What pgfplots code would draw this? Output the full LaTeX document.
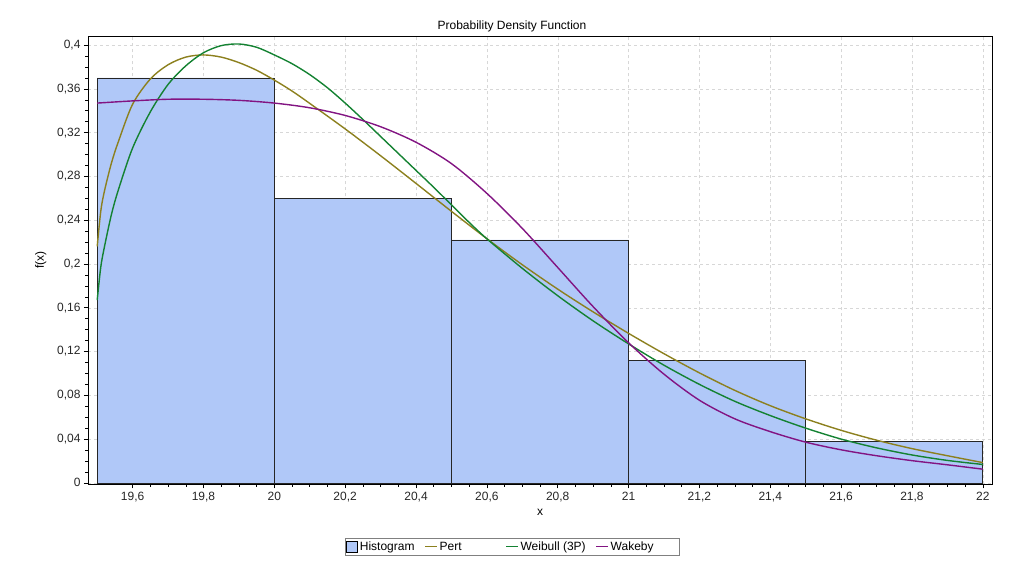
\documentclass[border=0pt]{standalone}
\usepackage{pgfplots}
\pgfplotsset{compat=1.18}
\usepackage{fontspec}
\setmainfont{Liberation Sans}

\definecolor{histfill}{RGB}{176,200,248}
\definecolor{pertcol}{RGB}{140,128,30}
\definecolor{weibcol}{RGB}{20,130,50}
\definecolor{wakecol}{RGB}{130,20,130}
\definecolor{gridcol}{RGB}{215,215,215}

\pgfplotsset{
    linelegend/.style={legend image code/.code={\draw[##1, line width=1pt] (0pt,0pt) -- (12pt,0pt);}},
    boxlegend/.style={legend image code/.code={\draw[fill=histfill, draw=black, line width=0.6pt] (0pt,-5pt) rectangle (11pt,6pt);}},
}

\begin{document}
\begin{tikzpicture}
\begin{axis}[
    name=ax,
    scale only axis,
    width=904pt, height=448.5pt,
    xmin=19.474, xmax=22.026,
    ymin=-0.0015, ymax=0.4083,
    xtick={19.6,19.8,...,22.01},
    ytick={0,0.04,...,0.41},
    minor x tick num=3,
    minor y tick num=3,
    tick align=outside,
    tick pos=left,
    major tick length=4pt,
    minor tick length=2.5pt,
    tick style={black, line width=0.5pt},
    scaled ticks=false,
    /pgf/number format/.cd, fixed, precision=2, use comma, assume math mode=true,
    /pgfplots/.cd,
    ticklabel style={font=\fontsize{12}{14}\selectfont, text=black!85},
    grid=major,
    major grid style={gridcol, dashed},
    axis line style={black, line width=0.9pt},
    title={Probability Density Function},
    title style={at={(0.469,1)}, anchor=base, yshift=0pt, font=\fontsize{12}{14}\selectfont},
    xlabel={x},
    ylabel={f(x)},
    ylabel style={yshift=4pt},
    label style={font=\fontsize{12}{14}\selectfont},
    legend columns=4,
    legend style={
        at={(0.469,-0.1194)}, anchor=north,
        draw=black!50, line width=0.6pt,
        font=\fontsize{12}{14}\selectfont,
        inner sep=1.5pt,
        /tikz/every even column/.append style={column sep=8pt},
    },
    legend cell align=left,
]

% histogram
\addplot[ybar interval, fill=histfill, draw=black!85, line width=0.6pt, boxlegend]
    coordinates {(19.5,0.370) (20.0,0.260) (20.5,0.222) (21.0,0.112) (21.5,0.038) (22.0,0.038)};
\addlegendentry{Histogram}

% Pert
\addplot[pertcol, line width=1.4pt, smooth, linelegend]
    coordinates {
    (19.50,0.216) (19.51,0.248) (19.52,0.266) (19.54,0.292) (19.56,0.312)
    (19.60,0.346) (19.65,0.369) (19.70,0.382) (19.75,0.389) (19.80,0.391)
    (19.85,0.389) (19.90,0.384) (19.95,0.377) (20.00,0.368) (20.05,0.358)
    (20.10,0.3467) (20.20,0.3234) (20.30,0.2989) (20.40,0.2736) (20.50,0.2481)
    (20.60,0.2231) (20.70,0.1993) (20.80,0.1770) (20.90,0.1562) (21.00,0.1366)
    (21.10,0.1180) (21.20,0.1005) (21.30,0.0845) (21.40,0.0705) (21.50,0.0585)
    (21.60,0.0480) (21.70,0.0390) (21.80,0.0313) (21.90,0.0248) (22.00,0.0185)};
\addlegendentry{Pert\hspace*{34pt}}

% Weibull (3P)
\addplot[weibcol, line width=1.4pt, smooth, linelegend]
    coordinates {
    (19.50,0.167) (19.51,0.197) (19.52,0.215) (19.54,0.245) (19.56,0.268)
    (19.60,0.306) (19.65,0.339) (19.70,0.364) (19.75,0.381) (19.80,0.393)
    (19.85,0.3995) (19.90,0.401) (19.95,0.398) (20.00,0.391) (20.05,0.383)
    (20.10,0.373) (20.15,0.361) (20.20,0.347) (20.25,0.332) (20.30,0.3165)
    (20.35,0.301) (20.40,0.2855) (20.45,0.270) (20.50,0.254) (20.55,0.238)
    (20.60,0.223) (20.70,0.196) (20.80,0.171) (20.90,0.148) (21.00,0.127)
    (21.10,0.1075) (21.20,0.090) (21.30,0.0745) (21.40,0.0615) (21.50,0.050)
    (21.60,0.040) (21.70,0.032) (21.80,0.0255) (21.90,0.0205) (22.00,0.0168)};
\addlegendentry{Weibull (3P)}

% Wakeby
\addplot[wakecol, line width=1.4pt, smooth, linelegend]
    coordinates {
    (19.50,0.347) (19.60,0.349) (19.70,0.3505) (19.80,0.3505) (19.90,0.3495)
    (20.00,0.347) (20.10,0.3427) (20.20,0.3357) (20.30,0.3254) (20.40,0.3112)
    (20.50,0.2917) (20.60,0.2645) (20.70,0.2325) (20.80,0.1968) (20.90,0.1610)
    (21.00,0.1280) (21.10,0.0993) (21.20,0.0755) (21.30,0.0585) (21.40,0.0468)
    (21.50,0.0372) (21.60,0.0302) (21.70,0.0248) (21.80,0.0203) (21.90,0.0165)
    (22.00,0.0125)};
\addlegendentry{Wakeby\hspace*{22pt}}

\end{axis}
\path ([xshift=-88pt,yshift=-82.5pt]ax.south west) rectangle ([xshift=31pt,yshift=36pt]ax.north east);
\end{tikzpicture}
\end{document}
